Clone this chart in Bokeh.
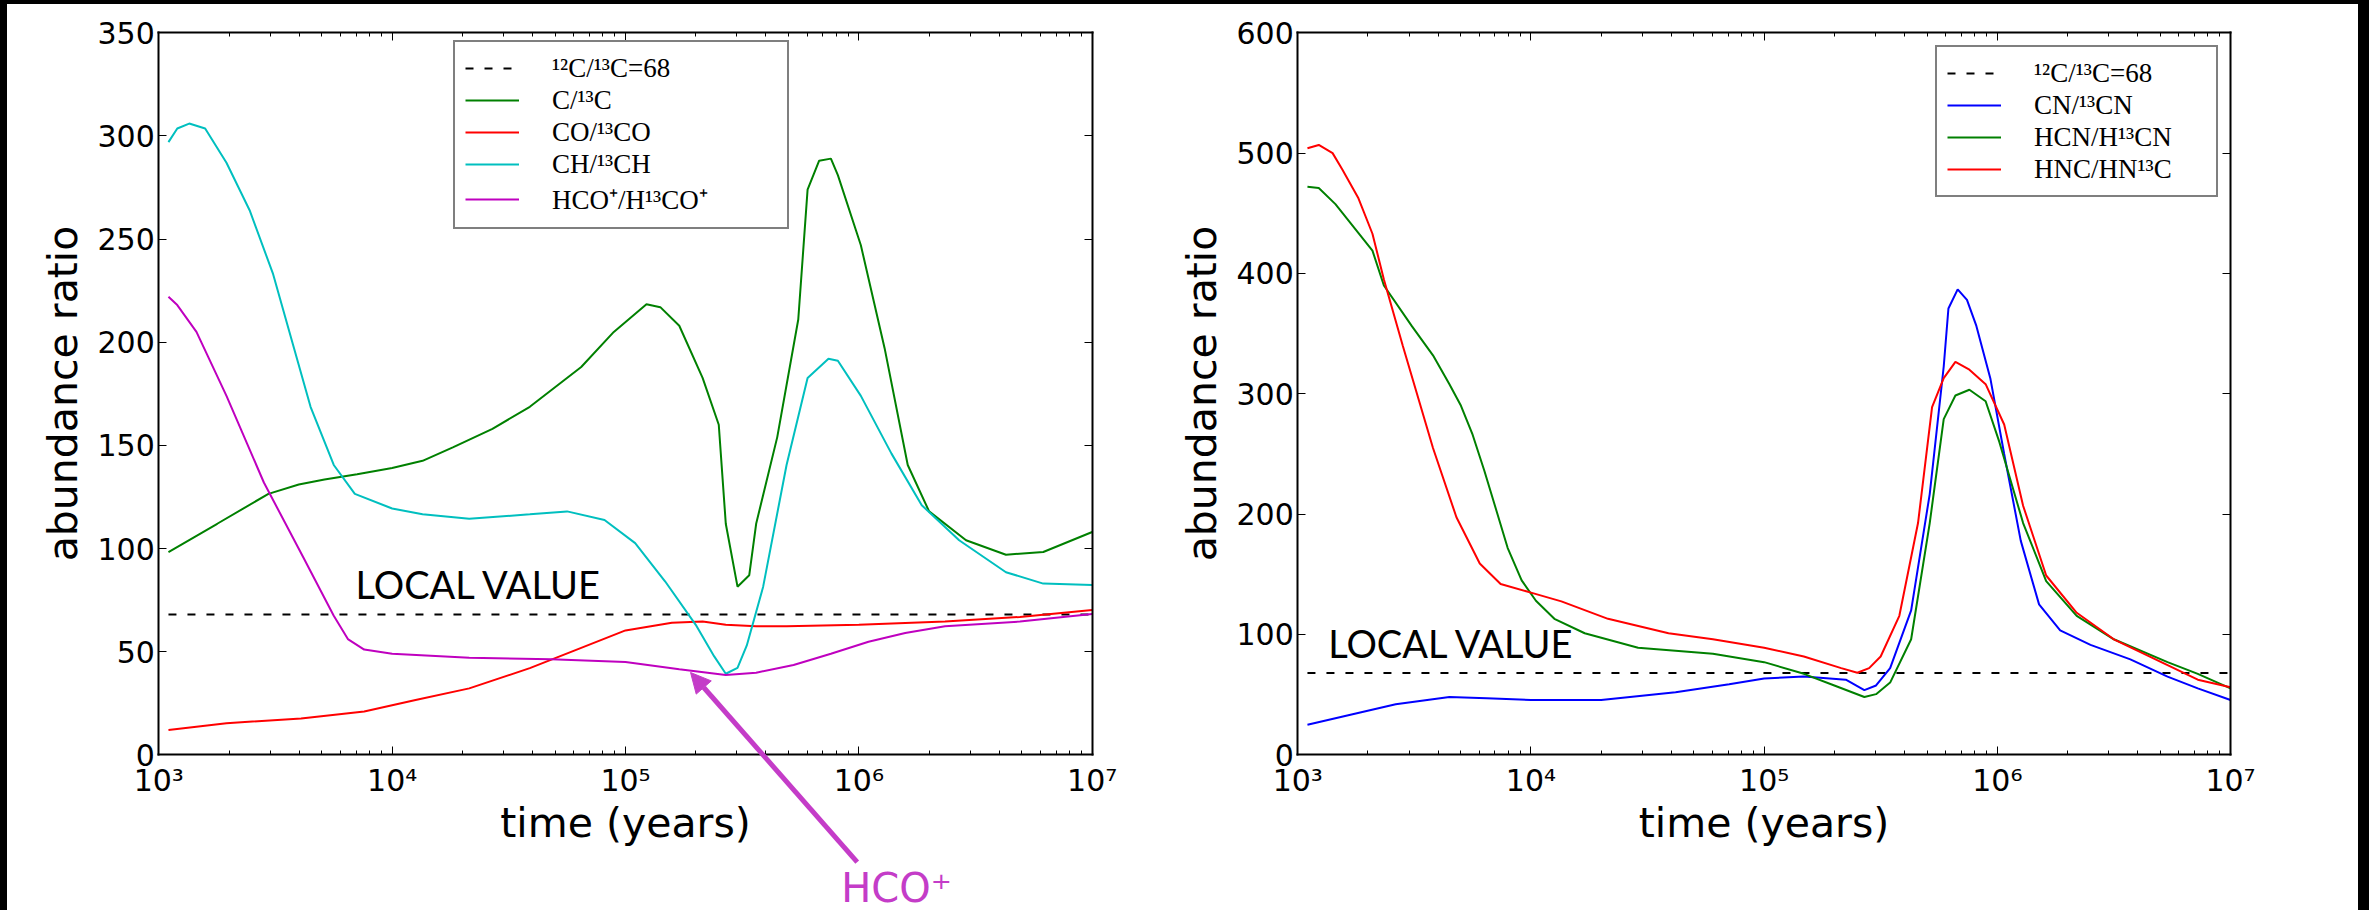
from bokeh.plotting import figure
from bokeh.models import (Range1d, FixedTicker, SingleIntervalTicker, LogAxis, LinearAxis,
                          CustomJSTickFormatter, Legend, LegendItem, Label, Arrow,
                          NormalHead, Spacer)
from bokeh.layouts import row, column
from bokeh.embed import file_html
from bokeh.resources import INLINE

# ---------------- data: carbon isotope abundance ratios vs time ----------------
local_ratio = 68
local_t = [1.10e3, 1.00e7]
local_y = [local_ratio, local_ratio]

# left panel
c_t = [1.10e3, 1.78e3, 2.95e3, 3.98e3, 5.13e3, 7.08e3, 1.00e4, 1.35e4, 1.82e4, 2.69e4,
       3.89e4, 6.46e4, 8.91e4, 1.23e5, 1.41e5, 1.70e5, 2.14e5, 2.51e5, 2.69e5, 3.02e5,
       3.39e5, 3.63e5, 4.47e5, 5.50e5, 6.03e5, 6.76e5, 7.59e5, 8.13e5, 1.02e6, 1.29e6,
       1.62e6, 2.00e6, 2.88e6, 4.27e6, 6.17e6, 1.00e7]
c_ratio = [98.3, 112, 126.5, 131, 133.5, 136, 139, 142.5, 149, 158,
           168.7, 188, 205, 218.4, 217, 208, 182.7, 160, 112, 81.5,
           87, 112, 154, 211, 274, 288, 289, 281, 247, 197,
           140.5, 118, 104, 97, 98.3, 108]

co_t = [1.10e3, 1.95e3, 4.07e3, 7.59e3, 1.26e4, 2.14e4, 3.89e4, 6.03e4, 1.00e5, 1.58e5,
        2.14e5, 2.69e5, 3.63e5, 4.90e5, 1.00e6, 2.34e6, 4.90e6, 1.00e7]
co_ratio = [12, 15.3, 17.6, 21, 26.6, 32.2, 42, 50.5, 60.3, 64,
            64.6, 63, 62.3, 62.3, 63, 64.6, 66.8, 70.2]

ch_t = [1.10e3, 1.20e3, 1.35e3, 1.58e3, 1.95e3, 2.45e3, 3.09e3, 3.80e3, 4.47e3, 5.62e3,
        6.92e3, 1.00e4, 1.35e4, 2.14e4, 3.89e4, 5.62e4, 8.13e4, 1.10e5, 1.48e5, 2.00e5,
        2.40e5, 2.69e5, 3.02e5, 3.31e5, 3.89e5, 4.90e5, 6.03e5, 7.41e5, 8.13e5, 1.02e6,
        1.38e6, 1.86e6, 2.69e6, 4.27e6, 6.17e6, 1.00e7]
ch_ratio = [297, 303.6, 306, 303.6, 287, 264, 233, 197, 168.7, 140.5,
            126.5, 119.4, 116.6, 114.4, 116.6, 118, 113.8, 102.6, 84, 63,
            47.7, 39.3, 42.1, 53, 81.5, 140.5, 182.7, 192, 191, 174,
            146, 121, 104, 88.5, 83, 82.3]

hco_t = [1.10e3, 1.20e3, 1.45e3, 1.95e3, 2.82e3, 4.17e3, 5.62e3, 6.46e3, 7.59e3, 1.00e4,
         2.14e4, 4.79e4, 1.00e5, 1.70e5, 2.69e5, 3.63e5, 5.25e5, 7.59e5, 1.10e6, 1.58e6,
         2.34e6, 4.90e6, 1.00e7]
hco_ratio = [222, 218, 205, 174, 132, 95.5, 67.4, 56.1, 51, 49,
             47.1, 46.3, 45, 41.5, 38.7, 39.8, 43.5, 49, 54.8, 59,
             62.3, 64.6, 68.2]

# right panel
cn_t = [1.10e3, 1.70e3, 2.63e3, 4.47e3, 6.46e3, 1.00e4, 2.00e4, 4.17e4, 7.08e4, 1.00e5,
        1.48e5, 2.24e5, 2.69e5, 3.02e5, 3.47e5, 4.27e5, 5.13e5, 5.89e5, 6.17e5, 6.76e5,
        7.41e5, 8.13e5, 9.33e5, 1.07e6, 1.26e6, 1.51e6, 1.86e6, 2.51e6, 3.72e6, 5.37e6,
        7.24e6, 1.00e7]
cn_ratio = [25, 33.5, 42, 48, 47, 45.5, 45.5, 52, 58.6, 63.4,
            65, 62.4, 53.8, 57.6, 72, 120, 216.7, 322.7, 370.9, 386.8,
            378, 356.4, 313, 250, 178, 125, 103.4, 91.4, 79.3, 65,
            55.2, 45.5]

hcn_t = [1.10e3, 1.23e3, 1.45e3, 2.09e3, 2.34e3, 3.09e3, 3.80e3, 4.47e3, 5.01e3, 5.62e3,
         6.31e3, 7.08e3, 7.94e3, 9.12e3, 1.05e4, 1.26e4, 1.70e4, 2.88e4, 6.03e4, 1.00e5,
         1.48e5, 2.00e5, 2.69e5, 3.02e5, 3.47e5, 4.27e5, 5.13e5, 5.89e5, 6.61e5, 7.59e5,
         8.91e5, 1.02e6, 1.29e6, 1.62e6, 2.19e6, 3.16e6, 5.37e6, 7.24e6, 1.00e7]
hcn_ratio = [472, 471, 457.6, 419, 390, 356, 332, 308, 290, 266,
             236, 204, 172, 145, 128, 113, 101, 89, 84, 77,
             67.3, 57.6, 48, 50.4, 60, 96, 192.6, 279, 298.6, 303.4,
             293.8, 260, 192.6, 144.4, 115.5, 96, 77, 67.3, 55.2]

hnc_t = [1.10e3, 1.23e3, 1.41e3, 1.55e3, 1.82e3, 2.09e3, 2.34e3, 2.82e3, 3.80e3, 4.79e3,
         6.03e3, 7.41e3, 1.00e4, 1.35e4, 2.14e4, 3.89e4, 6.03e4, 1.00e5, 1.48e5, 2.14e5,
         2.51e5, 2.82e5, 3.16e5, 3.80e5, 4.57e5, 5.25e5, 5.89e5, 6.61e5, 7.59e5, 8.91e5,
         1.07e6, 1.29e6, 1.62e6, 2.19e6, 3.16e6, 5.37e6, 7.24e6, 1.00e7]
hnc_ratio = [504, 506.8, 500, 486.6, 462.5, 433, 395, 340, 255, 197.4,
             159, 142, 134.8, 127.5, 113, 101, 96, 89, 81.7, 72,
             68.2, 72, 81.7, 115.5, 192.6, 288.9, 313, 326.5, 320, 308,
             274.5, 207, 149, 118, 96, 74.5, 62.4, 56.2]

x_ticks = [1e3, 1e4, 1e5, 1e6, 1e7]
x_minor = [m * d for d in (1e3, 1e4, 1e5, 1e6) for m in range(2, 10)]

TICK_FONT = "DejaVu Sans"
SUP_FORMAT = """
const sup = ["\u2070","\u00b9","\u00b2","\u00b3","\u2074","\u2075","\u2076","\u2077","\u2078","\u2079"];
const e = Math.round(Math.log10(tick));
return "10" + String(e).split("").map(d => sup[+d]).join("");
"""
BLANK_FORMAT = "return ''"

GREEN = "#008000"
RED = "#ff0000"
CYAN = "#00bfbf"
MAGENTA = "#bf00bf"
BLUE = "#0000ff"
ARROW_COLOR = "#c43cc8"

FIG_H = 906      # figure height (page height minus the top strip)
BOX_TOP = 28.3   # offset of the axes box from the top of the figure
BOX_H = 722.0    # height of the axes box (0 .. ymax)
X_LO, X_HI = 1e3, 1e7


def make_panel(ymax, ystep, fig_w, box_left, box_w):
    # The plotting frame fills the whole figure; the axes are pinned to the
    # edges of the data box so that the annotations below it are not clipped.
    decade = box_w / 4.0
    x0 = 10 ** (3 - box_left / decade)
    x1 = 10 ** (7 + (fig_w - box_left - box_w) / decade)
    ppu = BOX_H / ymax
    y1 = ymax + BOX_TOP / ppu
    y0 = -(FIG_H - BOX_TOP - BOX_H) / ppu

    p = figure(width=fig_w, height=FIG_H, x_axis_type="log",
               x_range=Range1d(x0, x1), y_range=Range1d(y0, y1),
               min_border=0, min_border_left=0, min_border_right=0,
               min_border_top=0, min_border_bottom=0,
               output_backend="svg", toolbar_location=None,
               background_fill_color="white", border_fill_color="white")
    p.grid.visible = False
    p.outline_line_color = None

    bottom = p.below[0]
    left = p.left[0]
    top = LogAxis()
    right = LinearAxis()
    p.add_layout(top, "above")
    p.add_layout(right, "right")

    bottom.fixed_location = 0
    top.fixed_location = ymax
    left.fixed_location = X_LO
    right.fixed_location = X_HI
    for ax in (bottom, top):
        ax.bounds = (X_LO, X_HI)
        ax.ticker = FixedTicker(ticks=x_ticks, minor_ticks=x_minor)
    for ax in (left, right):
        ax.bounds = (0, ymax)
        ax.ticker = SingleIntervalTicker(interval=ystep, num_minor_ticks=0)

    for ax in (bottom, top, left, right):
        ax.axis_line_color = "black"
        ax.axis_line_width = 2
        ax.axis_line_cap = "square"
        ax.major_tick_in = 8
        ax.major_tick_out = 0
        ax.minor_tick_in = 4
        ax.minor_tick_out = 0
        ax.major_tick_line_color = "black"
        ax.minor_tick_line_color = "black"
        ax.major_tick_line_width = 1
        ax.minor_tick_line_width = 1
        ax.major_label_text_font = TICK_FONT
        ax.major_label_text_color = "black"
        ax.axis_label_text_font = TICK_FONT
        ax.axis_label_text_font_style = "normal"
        ax.axis_label_text_color = "black"
        ax.axis_label_text_font_size = "41px"
    for ax in (top, right):
        ax.formatter = CustomJSTickFormatter(code=BLANK_FORMAT)
        ax.major_label_text_font_size = "2px"
        ax.major_label_standoff = 0

    bottom.formatter = CustomJSTickFormatter(code=SUP_FORMAT)
    bottom.major_label_text_font_size = "30px"
    bottom.major_label_standoff = 8
    bottom.axis_label = "time (years)"
    bottom.axis_label_standoff = -2

    left.major_label_text_font_size = "30px"
    left.major_label_standoff = 4
    left.axis_label = "abundance ratio"
    left.axis_label_standoff = 7
    return p


def add_legend(p, items, loc, label_width):
    leg = Legend(items=items, location=loc, margin=0, padding=10, spacing=0,
                 label_height=32, glyph_height=32, glyph_width=54,
                 label_standoff=33, label_width=label_width,
                 label_text_font="Liberation Serif", label_text_font_size="27px",
                 label_text_color="black",
                 border_line_color="black", border_line_width=2,
                 background_fill_color="white", background_fill_alpha=1)
    p.add_layout(leg)


# ---------------- left panel ----------------
p1 = make_panel(350, 50, 1135, 151.3, 933.4)
r_loc = p1.line(local_t, local_y, line_color="black", line_width=2, line_dash="8 11")
r_c = p1.line(c_t, c_ratio, line_color=GREEN, line_width=2)
r_co = p1.line(co_t, co_ratio, line_color=RED, line_width=2)
r_ch = p1.line(ch_t, ch_ratio, line_color=CYAN, line_width=2)
r_hco = p1.line(hco_t, hco_ratio, line_color=MAGENTA, line_width=2)
add_legend(p1, [
    LegendItem(label="\u00b9\u00b2C/\u00b9\u00b3C=68", renderers=[r_loc]),
    LegendItem(label="C/\u00b9\u00b3C", renderers=[r_c]),
    LegendItem(label="CO/\u00b9\u00b3CO", renderers=[r_co]),
    LegendItem(label="CH/\u00b9\u00b3CH", renderers=[r_ch]),
    LegendItem(label="HCO\u207a/H\u00b9\u00b3CO\u207a", renderers=[r_hco]),
], (446, 681), 225)

p1.add_layout(Label(x=6.97e3, y=82.9, text="LOCAL VALUE", text_font="Lato",
                    text_font_size="38px", text_color="black",
                    text_baseline="alphabetic"))
p1.add_layout(Arrow(x_start=9.84e5, y_start=-52, x_end=1.9e5, y_end=39.9,
                    line_color=ARROW_COLOR, line_width=5,
                    end=NormalHead(size=20, fill_color=ARROW_COLOR,
                                   line_color=ARROW_COLOR, line_width=1)))
p1.add_layout(Label(x=8.4e5, y=-64.5, text="HCO\u207a", text_font="DejaVu Sans",
                    text_font_size="40px", text_color=ARROW_COLOR,
                    text_baseline="alphabetic"))

# ---------------- right panel ----------------
p2 = make_panel(600, 100, 1216, 155.3, 932.7)
q_loc = p2.line(local_t, local_y, line_color="black", line_width=2, line_dash="8 11")
q_cn = p2.line(cn_t, cn_ratio, line_color=BLUE, line_width=2)
q_hcn = p2.line(hcn_t, hcn_ratio, line_color=GREEN, line_width=2)
q_hnc = p2.line(hnc_t, hnc_ratio, line_color=RED, line_width=2)
add_legend(p2, [
    LegendItem(label="\u00b9\u00b2C/\u00b9\u00b3C=68", renderers=[q_loc]),
    LegendItem(label="CN/\u00b9\u00b3CN", renderers=[q_cn]),
    LegendItem(label="HCN/H\u00b9\u00b3CN", renderers=[q_hcn]),
    LegendItem(label="HNC/HN\u00b9\u00b3C", renderers=[q_hnc]),
], (793, 713), 172)

p2.add_layout(Label(x=1.35e3, y=92.5, text="LOCAL VALUE", text_font="Lato",
                    text_font_size="38px", text_color="black",
                    text_baseline="alphabetic"))

BLACK = {"background-color": "black"}
layout = column(
    Spacer(width=2369, height=4, styles=BLACK),
    row(Spacer(width=7, height=906, styles=BLACK), p1, p2,
        Spacer(width=11, height=906, styles=BLACK)),
)

open("out.html", "w").write(file_html(layout, INLINE))
